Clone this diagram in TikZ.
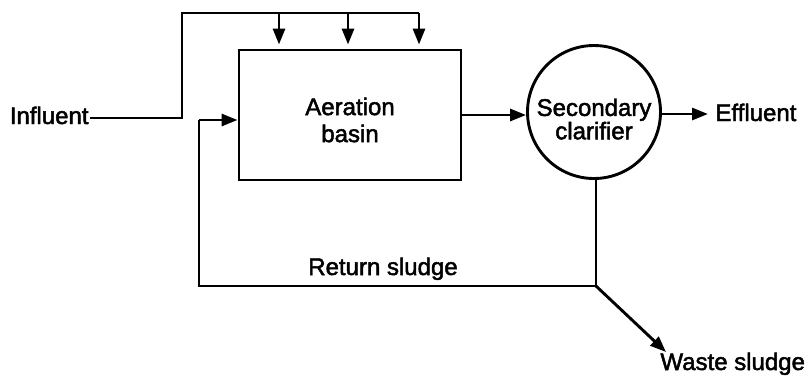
\documentclass[tikz,border=0pt]{standalone}
\usepackage{fontspec}
\setmainfont{Liberation Sans}
\newfontfamily\lblfont{Liberation Sans}[BoldFont={Liberation Sans}, BoldFeatures={FakeBold=2}]
\usetikzlibrary{arrows.meta}
\begin{document}
\begin{tikzpicture}[x=1pt,y=-1pt,
  line width=2.9pt,
  flow/.style={-{Triangle[length=16pt,width=12pt]}},
  lbl/.style={font=\lblfont\bfseries\fontsize{24}{26}\selectfont, inner sep=0pt},
  unit/.style={draw, line width=2.9pt, inner sep=0pt}]
\useasboundingbox (0,0) rectangle (810,376);
% units
\node[unit, minimum width=222pt, minimum height=130pt] (basin) at (350,115) {};
\node[lbl, align=center, font=\lblfont\bfseries\fontsize{24}{27}\selectfont] (basintxt) at (350,120) {Aeration\\basin};
\node[unit, circle, minimum size=133pt] (clar) at (594,112) {};
\node[lbl, align=center, font=\lblfont\bfseries\fontsize{24}{19}\selectfont] (clartxt) at (594,119) {Secondary\\clarifier};
% labels
\node[lbl, anchor=base east] (inf) at (90,124) {Influent};
\node[lbl, anchor=base west] (eff) at (714,121) {Effluent};
\node[lbl, anchor=base] (ret) at (383,275) {Return sludge};
\node[lbl, anchor=base west] (waste) at (659,370) {Waste sludge};
% coordinates
\coordinate (infr) at (182,118);
\coordinate (tl) at (182,13);
\coordinate (d1) at (279,13);
\coordinate (d2) at (348,13);
\coordinate (d3) at (419,13);
\coordinate (j) at (596,286);
\coordinate (rl) at (199,286);
\coordinate (ru) at (199,120);
\coordinate (wt) at (666,352);
% influent feed
\draw (inf.east |- infr) -- (infr) -- (tl) -- (d3);
\draw[flow, shorten >=4pt] (d1) -- (d1 |- basin.north);
\draw[flow, shorten >=4pt] (d2) -- (d2 |- basin.north);
\draw[flow, shorten >=4pt] (d3) -- (d3 |- basin.north);
% basin to clarifier
\draw[flow] (basin.east |- 0,115) -- (clar.west |- 0,115);
\draw[flow] (clar.east |- 0,114) -- (708,114);
% sludge
\draw (clar.south -| j) -- (j) -- (rl) -- (ru);
\draw[flow] (ru) -- (basin.west |- ru);
\draw[flow] (j) -- (wt);
\end{tikzpicture}
\end{document}
